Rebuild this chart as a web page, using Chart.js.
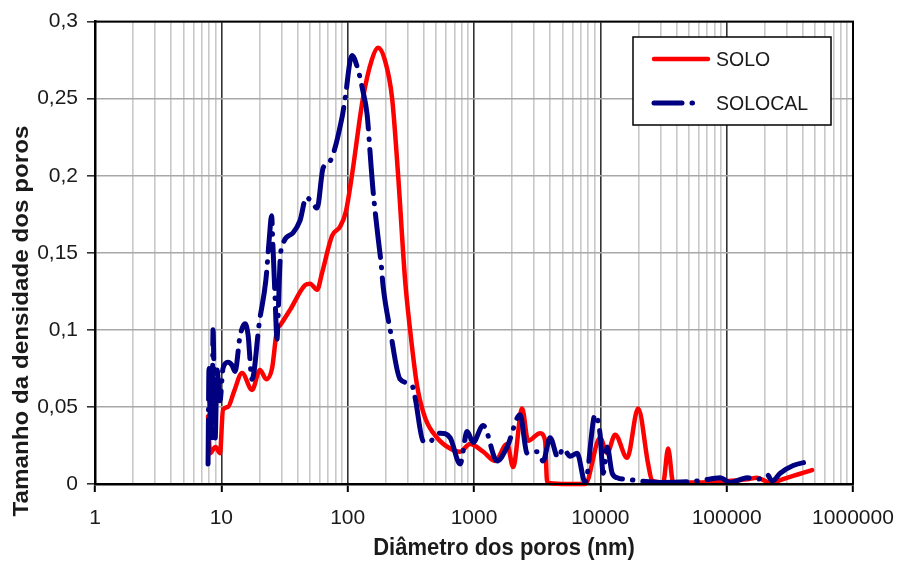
<!DOCTYPE html>
<html>
<head>
<meta charset="utf-8">
<script src="https://cdn.jsdelivr.net/npm/chart.js@4/dist/chart.umd.min.js"></script>
<style>
  html, body { margin: 0; padding: 0; background: #fff; }
  #wrap { width: 898px; height: 563px; }
</style>
</head>
<body>
<div id="wrap"><canvas id="c" width="898" height="563"></canvas></div>
<script>
// Pore size distribution: density vs. pore diameter (nm), log axis
const seriesNames = ['SOLO', 'SOLOCAL'];

const soloDiam = [7.85, 8.14, 9.0, 9.76, 10.3, 11.3, 12.6, 14.6, 17.5, 20.2, 22.7, 25.2, 27.6, 29.2, 35.0,
  46.0, 50.4, 57.3, 62.7, 75.2, 87.1, 97.0, 108, 132, 155, 174, 197, 225, 251, 285, 312, 354, 410, 510, 647,
  776, 931, 1181, 1469, 1829, 2040, 2404, 2682, 3337, 3656, 3792, 5000, 7582, 9963, 11320, 13100, 16300,
  19920, 23900, 25710, 31430, 34420, 37700, 60000, 100000, 145000, 174000, 221000, 300000, 475000];
const soloDens = [0.044, 0.020, 0.024, 0.020, 0.048, 0.050, 0.060, 0.072, 0.061, 0.074, 0.068, 0.075, 0.100, 0.103, 0.113,
  0.129, 0.130, 0.126, 0.137, 0.161, 0.167, 0.177, 0.200, 0.250, 0.275, 0.283, 0.275, 0.250, 0.200, 0.132, 0.100, 0.064, 0.043, 0.030, 0.023,
  0.021, 0.026, 0.021, 0.015, 0.026, 0.011, 0.049, 0.028, 0.033, 0.028, 0.001, 0, 0, 0.030, 0.020, 0.032, 0.017,
  0.049, 0.013, 0.002, 0.001, 0.023, 0.001, 0.001, 0.002, 0.003, 0.004, 0.001, 0.004, 0.009];

const solocalDiam = [7.85, 7.99, 8.14, 8.44, 8.60, 8.92, 9.25, 9.76, 10.31, 11.3, 12.15, 12.84, 14.07, 15.4, 16.27,
  17.5, 20.0, 22.5, 24.0, 25.0, 25.6, 26.6, 27.6, 28.1, 29.2, 30.8, 37.0, 42.0, 47.0, 52.0, 57.3, 63.9, 72.0, 90.3, 95.4,
  108, 118.7, 132, 142.4, 153, 159, 174, 184, 191, 217, 260, 323, 342, 395, 433, 539, 647, 776, 882, 984,
  1181, 1524, 1829, 2317, 2633, 3159, 3525, 4004, 4634, 5076, 5767, 6552, 7582, 9097, 9963, 10525, 11320, 12400, 13584, 16300,
  29750, 60000, 88800, 106600, 145300, 174300, 209300, 229200, 265300, 336200, 475400];
const solocalDens = [0.013, 0.075, 0.045, 0.030, 0.100, 0.028, 0.074, 0.054, 0.075, 0.079, 0.077, 0.073, 0.096, 0.104, 0.097,
  0.068, 0.105, 0.132, 0.160, 0.174, 0.155, 0.122, 0.094, 0.107, 0.145, 0.156, 0.163, 0.171, 0.186, 0.183, 0.179, 0.205, 0.209, 0.238, 0.250,
  0.278, 0.271, 0.255, 0.240, 0.207, 0.190, 0.160, 0.143, 0.128, 0.100, 0.068, 0.064, 0.056, 0.028, 0.027, 0.033, 0.030, 0.013, 0.034, 0.027,
  0.038, 0.015, 0.024, 0.045, 0.020, 0.021, 0.015, 0.030, 0.017, 0.023, 0.018, 0.020, 0.001, 0.045, 0.032, 0.007, 0.024, 0.007, 0.004, 0.003,
  0.001, 0.002, 0.004, 0.001, 0.004, 0.003, 0.006, 0.002, 0.007, 0.012, 0.015];

const xDecades = [1, 10, 100, 1000, 10000, 100000, 1000000];
const yTicks = [0, 0.05, 0.1, 0.15, 0.2, 0.25, 0.3];

const xTitle = 'Diâmetro dos poros (nm)';
const yTitle = 'Tamanho da densidade dos poros';

const FONT = '"Liberation Sans", Arial, Helvetica, sans-serif';
const TEXT = '#1a1a1a';
const NAVY_DASH = [44, 10, 0.5, 10];

const toPoints = (xs, ys) => xs.map((x, i) => ({ x: x, y: ys[i] }));
const isDecade = v => Math.abs(Math.log10(v) - Math.round(Math.log10(v))) < 1e-9;

// all 1..9 multiples of each decade, for the minor grid
const xGridTicks = [];
for (let d = 0; d < xDecades.length - 1; d++) {
  for (let m = 1; m < 10; m++) xGridTicks.push(m * xDecades[d]);
}
xGridTicks.push(xDecades[xDecades.length - 1]);

// plot frame, axis titles and boxed legend
const decorPlugin = {
  id: 'decor',
  afterDraw(chart) {
    const ctx = chart.ctx;
    const a = chart.chartArea;
    ctx.save();
    ctx.strokeStyle = '#000';
    ctx.lineWidth = 2;
    ctx.strokeRect(a.left, a.top, a.right - a.left, a.bottom - a.top);

    ctx.fillStyle = TEXT;
    ctx.font = 'bold 22px ' + FONT;
    ctx.textAlign = 'center';
    ctx.textBaseline = 'middle';

    // y title, rotated
    ctx.translate(22, 321);
    ctx.rotate(-Math.PI / 2);
    ctx.scale(1.1, 1);
    ctx.fillText(yTitle, 0, 0);
    ctx.setTransform(1, 0, 0, 1, 0, 0);

    // x title
    ctx.translate(504, 548);
    ctx.scale(1, 1.1);
    ctx.fillText(xTitle, 0, 0);
    ctx.setTransform(1, 0, 0, 1, 0, 0);

    // legend box
    const lx = 633, ly = 37, lw = 198, lh = 88;
    ctx.fillStyle = '#fff';
    ctx.fillRect(lx, ly, lw, lh);
    ctx.strokeStyle = '#000';
    ctx.lineWidth = 1.5;
    ctx.strokeRect(lx, ly, lw, lh);

    const rows = [59, 103];
    chart.data.datasets.forEach((ds, i) => {
      const y = rows[i];
      ctx.beginPath();
      ctx.strokeStyle = ds.borderColor;
      ctx.lineWidth = ds.borderWidth;
      ctx.lineCap = 'round';
      ctx.setLineDash(ds.borderDash || []);
      ctx.lineDashOffset = ds.borderDash ? 16 : 0;
      ctx.moveTo(654, y);
      ctx.lineTo(ds.borderDash ? 694 : 708, y);
      ctx.stroke();
      ctx.setLineDash([]);
      ctx.fillStyle = TEXT;
      ctx.font = '19.5px ' + FONT;
      ctx.textAlign = 'left';
      ctx.textBaseline = 'middle';
      ctx.save();
      ctx.translate(716, y + 1);
      ctx.scale(1, 1.08);
      ctx.fillText(ds.label, 0, 0);
      ctx.restore();
    });
    ctx.restore();
  }
};

new Chart(document.getElementById('c'), {
  type: 'line',
  data: {
    datasets: [
      {
        label: seriesNames[0],
        data: toPoints(soloDiam, soloDens),
        borderColor: '#ff0000',
        borderWidth: 4.5,
        pointRadius: 0,
        cubicInterpolationMode: 'monotone',
        borderCapStyle: 'round',
        borderJoinStyle: 'round',
        clip: 4,
        order: 2
      },
      {
        label: seriesNames[1],
        data: toPoints(solocalDiam, solocalDens),
        borderColor: '#000080',
        borderWidth: 5,
        borderDash: NAVY_DASH,
        pointRadius: 0,
        cubicInterpolationMode: 'monotone',
        borderCapStyle: 'round',
        borderJoinStyle: 'round',
        clip: 4,
        order: 1
      }
    ]
  },
  options: {
    responsive: false,
    devicePixelRatio: 1,
    animation: false,
    layout: { padding: { top: 16, right: 45, left: 0, bottom: 0 } },
    plugins: { legend: { display: false }, tooltip: { enabled: false } },
    scales: {
      x: {
        type: 'logarithmic',
        min: 1,
        max: 1000000,
        afterBuildTicks: s => { s.ticks = xGridTicks.map(v => ({ value: v })); },
        afterFit: s => { s.height = 79; s.paddingLeft = 0; s.paddingRight = 0; },
        ticks: {
          autoSkip: false,
          maxRotation: 0,
          padding: 14,
          color: TEXT,
          font: { family: FONT, size: 21 },
          callback: v => (isDecade(v) ? String(Math.round(v)) : '')
        },
        grid: {
          color: c => (c.tick && isDecade(c.tick.value) ? '#333' : '#c8c8c8'),
          lineWidth: 1.6,
          tickLength: 8,
          tickColor: c => (c.tick && isDecade(c.tick.value) ? '#000' : 'rgba(0,0,0,0)'),
          tickWidth: 2
        },
        border: { display: true, color: '#000', width: 2.5 }
      },
      y: {
        min: 0,
        max: 0.3,
        afterBuildTicks: s => { s.ticks = yTicks.map(v => ({ value: v })); },
        afterFit: s => { s.width = 95; },
        ticks: {
          padding: 9,
          color: TEXT,
          font: { family: FONT, size: 21 },
          callback: v => String(Number(v.toFixed(2))).replace('.', ',')
        },
        grid: {
          color: '#a8a8a8',
          lineWidth: 1.6,
          tickLength: 8,
          tickColor: '#333',
          tickWidth: 1.6
        },
        border: { display: true, color: '#000', width: 2.5 }
      }
    }
  },
  plugins: [decorPlugin]
});
</script>
</body>
</html>
